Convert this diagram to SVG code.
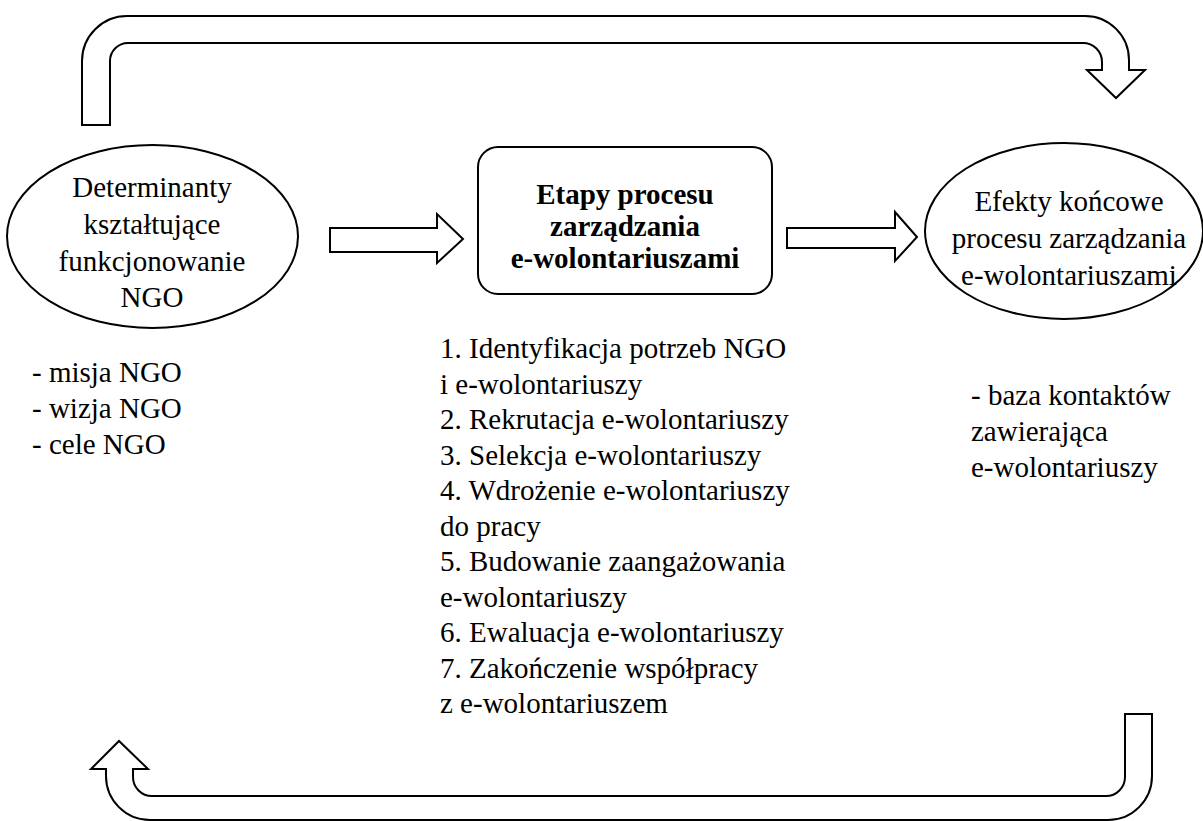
<svg xmlns="http://www.w3.org/2000/svg" width="1203" height="821" viewBox="0 0 1203 821">
  <style>
    .shape { fill: #ffffff; stroke: #000000; stroke-width: 2; stroke-linejoin: miter; }
    .txt { font-family: "Liberation Serif", "Times New Roman", serif; font-size: 29px; fill: #000000; }
    .mid { text-anchor: middle; }
    .bold { font-weight: bold; }
  </style>
  <rect x="0" y="0" width="1203" height="821" fill="#ffffff"/>

  <!-- block arrows: feedback loops and forward flow -->
  <g id="connectors">
    <!-- upper loop: from determinants over to final effects -->
    <path class="shape" d="M82,125 L82,61 A45,45 0 0 1 127,16 L1085,16 A44,44 0 0 1 1129,60 L1129,70 L1145,70 L1116,98 L1087,70 L1102,70 L1102,62 A19,19 0 0 0 1083,43 L128,43 A18,18 0 0 0 110,61 L110,125 Z"/>
    <!-- lower loop: from final effects back to determinants -->
    <path class="shape" d="M1152,714 L1152,776 A44,44 0 0 1 1108,820 L150,820 A44,44 0 0 1 106,776 L106,769 L91,769 L119,741 L148,769 L133,769 L133,777 A19,19 0 0 0 152,796 L1106,796 A19,19 0 0 0 1125,777 L1125,714 Z"/>
    <!-- determinants to process stages -->
    <path class="shape" d="M330,228 L437,228 L437,214 L463,239 L437,263 L437,252 L330,252 Z"/>
    <!-- process stages to final effects -->
    <path class="shape" d="M787,228 L895,228 L895,212 L917,237 L895,261 L895,248 L787,248 Z"/>
  </g>

  <g id="node-determinants">
    <ellipse class="shape" cx="152.5" cy="236.5" rx="145.5" ry="91.5"/>
    <text class="txt mid" x="152" y="197">Determinanty</text>
    <text class="txt mid" x="152" y="234">kształtujące</text>
    <text class="txt mid" x="152" y="271">funkcjonowanie</text>
    <text class="txt mid" x="152" y="307">NGO</text>
  </g>

  <g id="node-stages">
    <rect class="shape" x="478" y="147" width="294" height="147" rx="20" ry="20"/>
    <text class="txt mid bold" x="625" y="204">Etapy procesu</text>
    <text class="txt mid bold" x="625" y="236">zarządzania</text>
    <text class="txt mid bold" x="625" y="268">e-wolontariuszami</text>
  </g>

  <g id="node-effects">
    <ellipse class="shape" cx="1064" cy="231" rx="139" ry="88"/>
    <text class="txt mid" x="1069" y="211">Efekty końcowe</text>
    <text class="txt mid" x="1069" y="248">procesu zarządzania</text>
    <text class="txt mid" x="1069" y="285">e-wolontariuszami</text>
  </g>

  <g id="list-determinants">
    <text class="txt" x="32" y="382">- misja NGO</text>
    <text class="txt" x="32" y="418">- wizja NGO</text>
    <text class="txt" x="32" y="454">- cele NGO</text>
  </g>

  <g id="list-stages">
    <text class="txt" x="440" y="358">1. Identyfikacja potrzeb NGO</text>
    <text class="txt" x="440" y="393.5">i e-wolontariuszy</text>
    <text class="txt" x="440" y="429">2. Rekrutacja e-wolontariuszy</text>
    <text class="txt" x="440" y="464.5">3. Selekcja e-wolontariuszy</text>
    <text class="txt" x="440" y="500">4. Wdrożenie e-wolontariuszy</text>
    <text class="txt" x="440" y="535.5">do pracy</text>
    <text class="txt" x="440" y="571">5. Budowanie zaangażowania</text>
    <text class="txt" x="440" y="606.5">e-wolontariuszy</text>
    <text class="txt" x="440" y="642">6. Ewaluacja e-wolontariuszy</text>
    <text class="txt" x="440" y="677.5">7. Zakończenie współpracy</text>
    <text class="txt" x="440" y="713">z e-wolontariuszem</text>
  </g>

  <g id="list-effects">
    <text class="txt" x="971" y="405">- baza kontaktów</text>
    <text class="txt" x="971" y="441">zawierająca</text>
    <text class="txt" x="971" y="477">e-wolontariuszy</text>
  </g>
</svg>
